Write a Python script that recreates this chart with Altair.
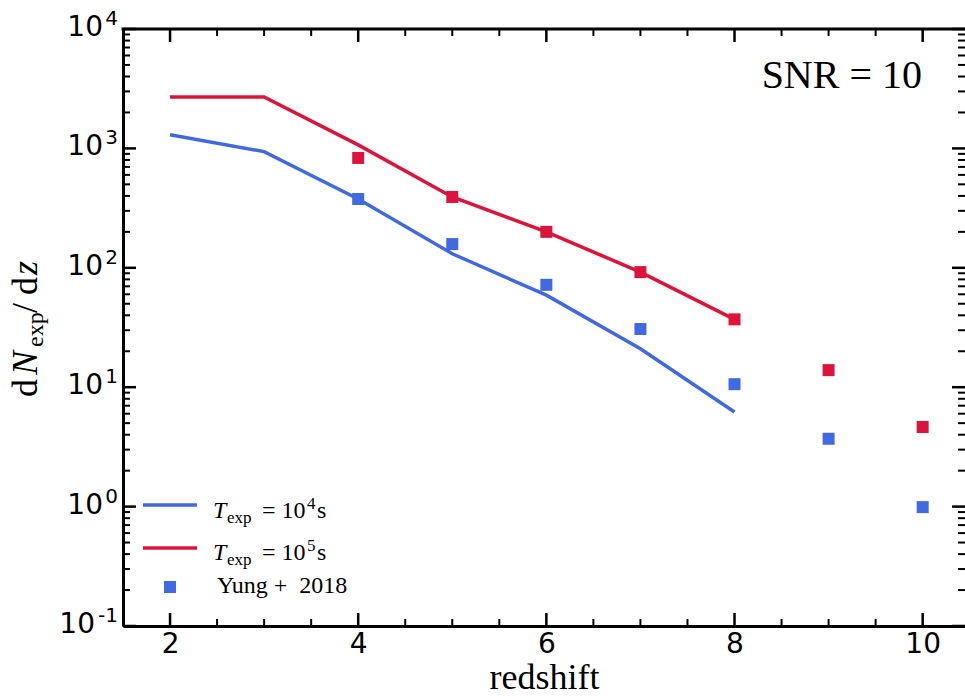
import altair as alt
import pandas as pd

# ---- data ----
z_line = [2, 3, 4, 5, 6, 7, 8]
dn_t1e4 = [1300, 940, 377, 131, 59, 21, 6.2]
dn_t1e5 = [2700, 2700, 1070, 392, 200, 92, 37]

z_yung = [4, 5, 6, 7, 8, 9, 10]
yung_t1e4 = [377, 158, 72, 30.7, 10.6, 3.7, 0.99]
yung_t1e5 = [832, 392, 200, 92, 37, 13.9, 4.64]

x_major = [2, 4, 6, 8, 10]
x_minor = [2.5, 3, 3.5, 4.5, 5, 5.5, 6.5, 7, 7.5, 8.5, 9, 9.5]
y_decades = [0.1, 1, 10, 100, 1000, 10000]
y_exps = ["-1", "0", "1", "2", "3", "4"]
y_minor = [m * d for d in [0.1, 1, 10, 100, 1000] for m in range(2, 10)]

legend_labels = ["Yung\u00a0+\u00a0\u00a02018"]
annotation = "SNR = 10"

BLUE = "#4169E1"
RED = "#DC143C"
W, H = 842, 597
SERIF = "Liberation Serif"
SANS = "DejaVu Sans"

xs = alt.Scale(domain=[1.5, 10.45], nice=False, zero=False)
ys = alt.Scale(type="log", domain=[0.1, 10000], nice=False)

lines_df = pd.DataFrame({
    "z": z_line * 2,
    "n": dn_t1e4 + dn_t1e5,
    "s": ["1e4"] * len(z_line) + ["1e5"] * len(z_line),
})
yung_df = pd.DataFrame({
    "z": z_yung * 2,
    "n": yung_t1e4 + yung_t1e5,
    "s": ["1e4"] * len(z_yung) + ["1e5"] * len(z_yung),
})
color = alt.Color("s:N", scale=alt.Scale(domain=["1e4", "1e5"], range=[BLUE, RED]), legend=None)

xaxis = alt.Axis(values=x_major, format="d", labelFont=SANS, labelFontSize=28, labelColor="black",
                 labelFontWeight="normal",
                 ticks=False, domain=True, domainColor="black", domainWidth=3, labelPadding=4,
                 grid=False, title="redshift", titleFont=SERIF, titleFontSize=36,
                 titleFontWeight="normal", titleColor="black", titleY=62, titleBaseline="alphabetic")
yaxis = alt.Axis(labels=False, ticks=False, domain=True, domainColor="black", domainWidth=3,
                 grid=False, title=None)

lines = alt.Chart(lines_df).mark_line(strokeWidth=3.5).encode(
    x=alt.X("z:Q", scale=xs, axis=xaxis),
    y=alt.Y("n:Q", scale=ys, axis=yaxis),
    color=color,
)
points = alt.Chart(yung_df).mark_square(size=144, opacity=1, filled=True).encode(
    x=alt.X("z:Q", scale=xs), y=alt.Y("n:Q", scale=ys), color=color,
)

# ---- inward ticks ----
xmaj = pd.DataFrame({"v": x_major})
xmin = pd.DataFrame({"v": x_minor})
ymaj = pd.DataFrame({"v": y_decades})
ymin = pd.DataFrame({"v": y_minor})
one = pd.DataFrame({"v": [0]})

def xticks(df, length, w):
    bot = alt.Chart(df).mark_rule(color="black", strokeWidth=w).encode(
        x=alt.X("v:Q", scale=xs), y=alt.value(H), y2=alt.value(H - length))
    top = alt.Chart(df).mark_rule(color="black", strokeWidth=w).encode(
        x=alt.X("v:Q", scale=xs), y=alt.value(0), y2=alt.value(length))
    return [bot, top]

def yticks(df, length, w):
    left = alt.Chart(df).mark_rule(color="black", strokeWidth=w).encode(
        y=alt.Y("v:Q", scale=ys), x=alt.value(0), x2=alt.value(length))
    right = alt.Chart(df).mark_rule(color="black", strokeWidth=w).encode(
        y=alt.Y("v:Q", scale=ys), x=alt.value(W), x2=alt.value(W - length))
    return [left, right]

ticks = xticks(xmaj, 13, 2.5) + xticks(xmin, 7, 2) + yticks(ymaj, 13, 2.5) + yticks(ymin, 7, 2)

top_spine = alt.Chart(one).mark_rule(color="black", strokeWidth=3).encode(
    x=alt.value(-1.5), x2=alt.value(W), y=alt.value(0))

# ---- y tick labels 10^k ----
ylab = pd.DataFrame({"v": y_decades, "e": y_exps})
ten_pos = alt.Chart(ylab).transform_filter("length(datum.e) == 1").mark_text(
    align="right", baseline="alphabetic", font=SANS, fontSize=28, fontWeight="normal", dy=7,
    color="black").encode(
    y=alt.Y("v:Q", scale=ys), x=alt.value(-20), text=alt.value("10"))
ten_neg = alt.Chart(ylab).transform_filter("length(datum.e) > 1").mark_text(
    align="right", baseline="alphabetic", font=SANS, fontSize=28, fontWeight="normal", dy=7,
    color="black").encode(
    y=alt.Y("v:Q", scale=ys), x=alt.value(-28), text=alt.value("10"))
exps = alt.Chart(ylab).mark_text(
    align="right", baseline="alphabetic", font=SANS, fontSize=20, fontWeight="normal", dy=-4,
    color="black").encode(
    y=alt.Y("v:Q", scale=ys), x=alt.value(-5), text="e:N")

# ---- y title pieces (rotated) ----
def ytitle_piece(txt, x, y, size, style="normal"):
    return alt.Chart(one).mark_text(
        text=txt, angle=270, align="left", baseline="alphabetic", font=SERIF,
        fontSize=size, fontStyle=style, fontWeight="normal", color="black").encode(
        x=alt.value(x), y=alt.value(y))

ytitle = [
    ytitle_piece("d", -86, 368, 36),
    ytitle_piece("N", -86, 346, 36, "italic"),
    ytitle_piece("exp", -80, 318, 24),
    ytitle_piece("/", -86, 284, 36),
    ytitle_piece("d", -86, 266, 36),
    ytitle_piece("z", -86, 246, 36, "italic"),
]

# ---- annotation ----
snr = alt.Chart(one).mark_text(text=annotation, align="right", baseline="alphabetic",
                               font=SERIF, fontSize=40, fontWeight="normal", color="black").encode(
    x=alt.value(799), y=alt.value(59))

# ---- legend ----
def piece(txt, x, y, size, style="normal"):
    return alt.Chart(one).mark_text(text=txt, align="left", baseline="alphabetic", font=SERIF,
                                    fontSize=size, fontStyle=style, fontWeight="normal",
                                    color="black").encode(
        x=alt.value(x), y=alt.value(y))

legend = [
    alt.Chart(one).mark_rule(color=BLUE, strokeWidth=3.5).encode(
        x=alt.value(20), x2=alt.value(74), y=alt.value(476)),
    alt.Chart(one).mark_rule(color=RED, strokeWidth=3.5).encode(
        x=alt.value(20), x2=alt.value(74), y=alt.value(519)),
    alt.Chart(one).mark_square(color=BLUE, size=144, opacity=1, filled=True).encode(
        x=alt.value(47), y=alt.value(558)),
]
for sup, base in [("4", 489), ("5", 531)]:
    legend += [
        piece("T", 90, base, 24, "italic"),
        piece("exp", 104, base + 5, 17),
        piece("= 10", 139, base, 24),
        piece(sup, 184, base - 9, 17),
        piece("s", 194, base, 24),
    ]
legend.append(piece(legend_labels[0], 94, 564, 24))

chart = alt.layer(lines, points, *ticks, top_spine, ten_pos, ten_neg, exps, *ytitle, snr, *legend).properties(
    width=W, height=H,
    autosize=alt.AutoSizeParams(type="none"),
    padding={"left": 123, "top": 29, "right": 0, "bottom": 70},
    background="white",
).configure_view(stroke=None)

chart.save("out.html", embed_options={"renderer": "svg", "actions": False})
